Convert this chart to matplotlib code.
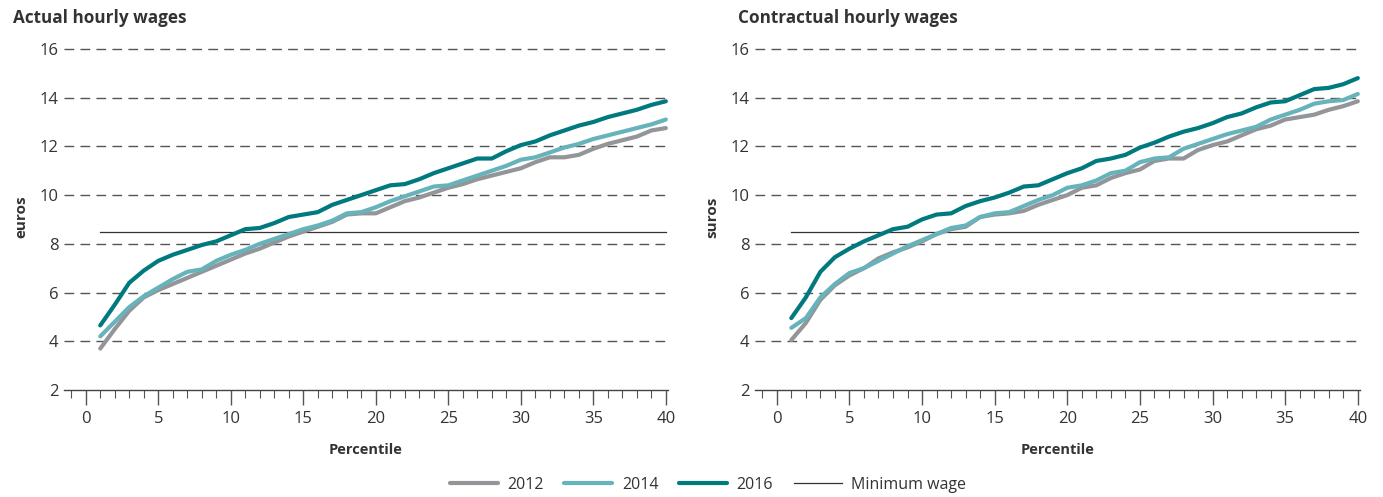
import matplotlib
matplotlib.use("Agg")
import matplotlib.pyplot as plt
from matplotlib.ticker import MultipleLocator
from matplotlib.lines import Line2D

percentile = list(range(1, 41))

actual_2012 = [3.7, 4.5, 5.25, 5.8, 6.1, 6.35, 6.6, 6.85, 7.1, 7.35,
               7.6, 7.8, 8.05, 8.3, 8.5, 8.7, 8.9, 9.2, 9.25, 9.25,
               9.5, 9.75, 9.9, 10.1, 10.3, 10.45, 10.65, 10.8, 10.95, 11.1,
               11.35, 11.55, 11.55, 11.65, 11.9, 12.1, 12.25, 12.4, 12.65, 12.75]
actual_2014 = [4.2, 4.8, 5.4, 5.85, 6.2, 6.55, 6.85, 6.95, 7.3, 7.55,
               7.75, 8.0, 8.2, 8.4, 8.6, 8.75, 8.95, 9.25, 9.3, 9.5,
               9.75, 9.95, 10.15, 10.35, 10.4, 10.6, 10.8, 11.0, 11.2, 11.45,
               11.55, 11.75, 11.95, 12.1, 12.3, 12.45, 12.6, 12.75, 12.9, 13.1]
actual_2016 = [4.65, 5.5, 6.4, 6.9, 7.3, 7.55, 7.75, 7.95, 8.1, 8.35,
               8.6, 8.65, 8.85, 9.1, 9.2, 9.3, 9.6, 9.8, 10.0, 10.2,
               10.4, 10.45, 10.65, 10.9, 11.1, 11.3, 11.5, 11.5, 11.8, 12.05,
               12.2, 12.45, 12.65, 12.85, 13.0, 13.2, 13.35, 13.5, 13.7, 13.85]

contr_2012 = [4.05, 4.75, 5.7, 6.3, 6.7, 7.0, 7.4, 7.65, 7.85, 8.1,
              8.4, 8.6, 8.7, 9.1, 9.2, 9.25, 9.35, 9.6, 9.8, 10.0,
              10.3, 10.4, 10.7, 10.9, 11.05, 11.4, 11.5, 11.5, 11.85, 12.05,
              12.2, 12.45, 12.7, 12.85, 13.1, 13.2, 13.3, 13.5, 13.65, 13.85]
contr_2014 = [4.55, 4.95, 5.8, 6.35, 6.8, 7.0, 7.3, 7.6, 7.9, 8.15,
              8.4, 8.65, 8.75, 9.1, 9.25, 9.3, 9.55, 9.8, 10.0, 10.3,
              10.4, 10.6, 10.9, 11.0, 11.35, 11.5, 11.55, 11.9, 12.1, 12.3,
              12.5, 12.65, 12.8, 13.1, 13.3, 13.5, 13.75, 13.85, 13.9, 14.15]
contr_2016 = [4.95, 5.8, 6.85, 7.45, 7.8, 8.1, 8.35, 8.6, 8.7, 9.0,
              9.2, 9.25, 9.55, 9.75, 9.9, 10.1, 10.35, 10.4, 10.65, 10.9,
              11.1, 11.4, 11.5, 11.65, 11.95, 12.15, 12.4, 12.6, 12.75, 12.95,
              13.2, 13.35, 13.6, 13.8, 13.85, 14.1, 14.35, 14.4, 14.55, 14.8]

minimum_wage = 8.5
min_wage_range = [1, 40]

panel_titles = ["Actual hourly wages", "Contractual hourly wages"]
y_labels = ["euros", "suros"]
x_label = "Percentile"
legend_labels = ["2012", "2014", "2016", "Minimum wage"]

colors = {"2012": "#939598", "2014": "#67b3bc", "2016": "#007a7f"}
txt = "#333333"

plt.rcParams['font.family'] = ['Open Sans', 'DejaVu Sans']

fig = plt.figure(figsize=(13.83, 4.97), dpi=100)
W, H = 1383, 497
bottom = 1 - 390 / H
top = 1 - 44 / H
axes_px = [(64, 668), (755, 1360)]

panels = [(actual_2012, actual_2014, actual_2016),
          (contr_2012, contr_2014, contr_2016)]

for i, ((x0, x1), series) in enumerate(zip(axes_px, panels)):
    ax = fig.add_axes([x0 / W, bottom, (x1 - x0) / W, top - bottom])
    ax.set_xlim(-1.5, 40.15)
    ax.set_ylim(2, 16.2)
    for yv in range(4, 17, 2):
        ax.axhline(yv, color="#555555", lw=1.0, ls=(0, (7, 4.5)), zorder=1)
    for vals, yr in zip(series, ["2012", "2014", "2016"]):
        ax.plot(percentile, vals, color=colors[yr], lw=3.0,
                solid_capstyle="round", solid_joinstyle="round", zorder=3)
    ax.plot(min_wage_range, [minimum_wage, minimum_wage], color="#333333",
            lw=0.9, zorder=2)
    for s in ["left", "right", "top"]:
        ax.spines[s].set_visible(False)
    ax.spines["bottom"].set_color("#444444")
    ax.spines["bottom"].set_linewidth(1.0)
    ax.xaxis.set_major_locator(MultipleLocator(5))
    ax.xaxis.set_minor_locator(MultipleLocator(1))
    ax.set_yticks(range(2, 17, 2))
    ax.tick_params(axis="x", which="major", length=11, width=1.0,
                   color="#555555", labelsize=12, labelcolor=txt, pad=4)
    ax.tick_params(axis="x", which="minor", length=6, width=0.8,
                   color="#555555")
    ax.tick_params(axis="y", length=0, labelsize=12, labelcolor=txt, pad=4)
    ax.set_xlabel(x_label, fontsize=10.5, fontweight="bold", color=txt,
                  labelpad=12)
    ax.set_ylabel(y_labels[i], fontsize=11, fontweight="bold", color=txt,
                  labelpad=8)
    ax.set_xticks(range(0, 41, 5))
    fig.text((13 if i == 0 else 738) / W, 1 - 18 / H, panel_titles[i],
             fontsize=12.3, fontweight="bold", color=txt, va="center",
             ha="left")

handles = [Line2D([], [], color=colors["2012"], lw=3.0, solid_capstyle="round"),
           Line2D([], [], color=colors["2014"], lw=3.0, solid_capstyle="round"),
           Line2D([], [], color=colors["2016"], lw=3.0, solid_capstyle="round"),
           Line2D([], [], color="#333333", lw=0.9)]
fig.legend(handles, legend_labels, loc="center", ncol=4, frameon=False,
           bbox_to_anchor=(708 / W, 1 - 485 / H), fontsize=11.5,
           handlelength=3.0, columnspacing=1.3, handletextpad=0.6,
           labelcolor=txt)

fig.savefig("out.png", dpi=100)
